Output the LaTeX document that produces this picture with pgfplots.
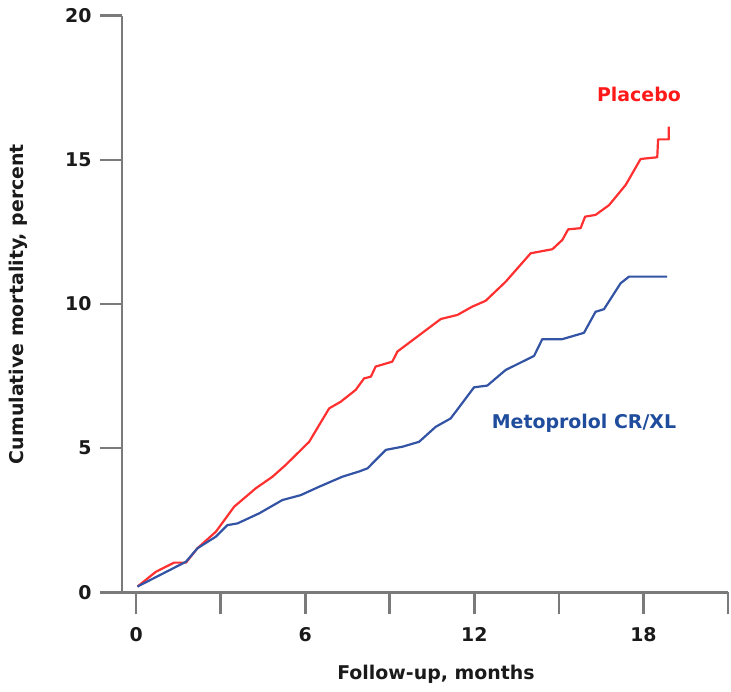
\documentclass[border=0pt]{standalone}
\usepackage{pgfplots}
\pgfplotsset{compat=1.18}
\usepackage{fontspec}
\setmainfont{DejaVu Sans}

\definecolor{axisgray}{HTML}{7A7A7A}
\definecolor{tickcol}{HTML}{1A1A1A}
\definecolor{placebo}{HTML}{FF3030}
\definecolor{placebotxt}{HTML}{FF1A1A}
\definecolor{meto}{HTML}{3353A5}
\definecolor{metotxt}{HTML}{1F4C9C}

\newcommand{\chartfont}{\bfseries\fontsize{19}{22}\selectfont}

\begin{document}
\begin{tikzpicture}
\begin{axis}[
    scale only axis,
    width=606bp,
    height=576.6bp,
    xmin=-0.5, xmax=21,
    ymin=0, ymax=20,
    axis x line=bottom,
    axis y line=left,
    axis line style={draw=axisgray, line width=2.6bp, -},
    tick style={draw=axisgray, line width=2.6bp},
    tick align=outside,
    major tick length=22bp,
    xtick={0,3,...,21},
    xticklabels={0,,6,,12,,18,,},
    ytick={0,5,10,15,20},
    tick label style={font=\chartfont, text=tickcol},
    yticklabel style={xshift=-5bp},
    xticklabel style={yshift=-10bp},
    /pgf/number format/assume math mode=true,
    xlabel={Follow-up, months},
    ylabel={Cumulative mortality, percent},
    every axis x label/.style={at={(axis description cs:0.518,0)}, yshift=-82bp, anchor=center, font=\chartfont, text=tickcol},
    every axis y label/.style={at={(axis description cs:0,0.5)}, xshift=-104bp, rotate=90, anchor=center, font=\chartfont, text=tickcol},
    clip=false,
]
\addplot[color=placebo, line width=2.2bp, line join=round] coordinates {
(0.05,0.20) (0.70,0.71) (1.35,1.03) (1.77,1.03) (2.18,1.53) (2.83,2.10)
(3.48,2.97) (4.25,3.61) (4.84,4.01) (5.31,4.42) (6.14,5.22) (6.85,6.38)
(7.26,6.61) (7.79,7.02) (8.09,7.42) (8.33,7.48) (8.50,7.83) (9.09,8.00)
(9.27,8.35) (10.81,9.48) (11.40,9.62) (11.93,9.91) (12.40,10.11) (13.11,10.77)
(14.00,11.76) (14.77,11.90) (15.12,12.22) (15.33,12.59) (15.77,12.63) (15.93,13.03)
(16.30,13.09) (16.78,13.43) (17.37,14.13) (17.90,15.03) (18.49,15.09) (18.52,15.71)
(18.90,15.71) (18.90,16.15)
};
\addplot[color=meto, line width=2.2bp, line join=round] coordinates {
(0.05,0.20) (1.77,1.06) (2.18,1.53) (2.83,1.93) (3.24,2.33) (3.60,2.39)
(4.37,2.74) (5.19,3.20) (5.84,3.37) (6.49,3.66) (7.32,4.01) (7.91,4.19)
(8.21,4.30) (8.86,4.94) (9.45,5.05) (10.04,5.22) (10.63,5.74) (11.16,6.03)
(11.99,7.11) (12.46,7.17) (13.11,7.71) (14.12,8.20) (14.41,8.78) (15.12,8.78)
(15.89,9.00) (16.30,9.73) (16.60,9.82) (17.19,10.72) (17.49,10.95) (18.84,10.95)
};
\node[font=\chartfont, text=placebotxt] at (axis cs:17.84,17.28) {Placebo};
\node[font=\chartfont, text=metotxt] at (axis cs:15.89,5.87) {Metoprolol CR/XL};
\end{axis}
\pgfresetboundingbox
\path[use as bounding box] (-122bp,-99.7bp) rectangle (609bp,592.3bp);
\end{tikzpicture}
\end{document}
